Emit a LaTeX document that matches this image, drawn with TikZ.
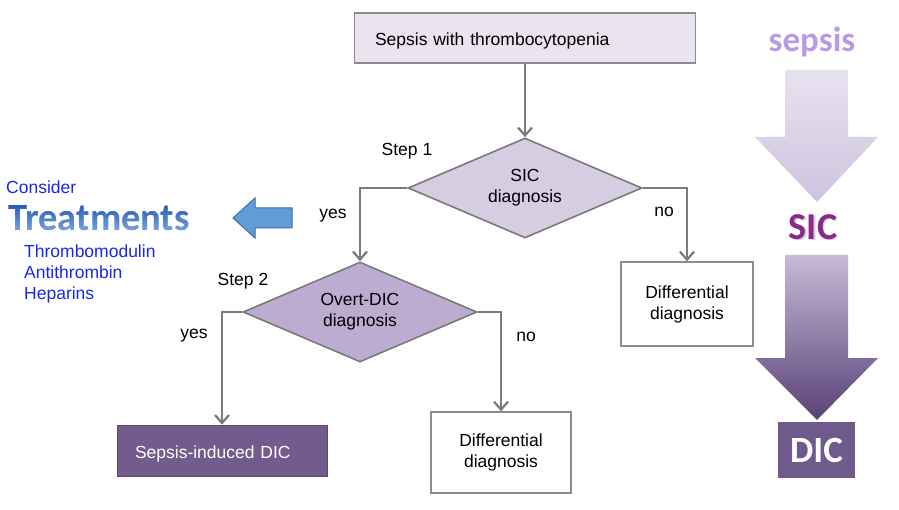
\documentclass[tikz,border=0pt]{standalone}
\usepackage{fontspec}
\setmainfont{Liberation Sans}
\newfontfamily\calib{Carlito}
\usetikzlibrary{shapes.geometric,arrows.meta}
\definecolor{linegray}{RGB}{122,122,122}
\definecolor{boxgray}{RGB}{140,140,140}
\definecolor{topfill}{RGB}{234,228,240}
\definecolor{dfillA}{RGB}{214,205,227}
\definecolor{dfillB}{RGB}{188,172,208}
\definecolor{purplebox}{RGB}{115,91,141}
\definecolor{txtblue}{RGB}{25,40,230}
\definecolor{tblueA}{RGB}{28,78,168}
\definecolor{tblueB}{RGB}{125,170,228}
\definecolor{arrblue}{RGB}{98,156,216}
\definecolor{arrblueD}{RGB}{60,110,170}
\definecolor{sicpurple}{RGB}{140,40,140}
\definecolor{sepsislav}{RGB}{186,155,226}
\definecolor{dicbox}{RGB}{110,90,140}
\begin{document}
\begin{tikzpicture}[x=1pt,y=-1pt,
  every node/.style={font=\fontsize{17.5}{21}\selectfont},
  arr/.style={draw=linegray, line width=2.3pt, -{Straight Barb[length=8pt,width=14pt,line width=2.2pt]}},
  flowbox/.style={draw=boxgray, line width=1.3pt, rectangle, inner sep=0pt},
  decision/.style={diamond, draw=linegray, line width=1.6pt, aspect=2.34, inner sep=0pt,
    minimum width=234pt, minimum height=100pt, align=center},
  lbl/.style={inner sep=0pt},
  bluetxt/.style={inner sep=0pt, text=txtblue},
  treat/.style={inner sep=0pt, font=\calib\bfseries\fontsize{38.5}{40}\selectfont}
]
\useasboundingbox (0,0) rectangle (899,510);
\fill[white] (0,0) rectangle (899,510);

% flowchart
\node[flowbox, fill=topfill, text width=300pt, inner xsep=20.5pt, minimum height=50pt, align=left] (top) at (525,38) {\raisebox{-3pt}[12.8pt][3.7pt]{Sepsis with thrombocytopenia}};
\node[decision, fill=dfillA] (d1) at (525,188) {SIC\\diagnosis};
\node[decision, fill=dfillB] (d2) at (360,312) {Overt-DIC\\diagnosis};
\node[flowbox, fill=white, minimum width=132pt, minimum height=84pt, align=center] (dd1) at (687,304) {Differential\\diagnosis};
\node[flowbox, fill=white, minimum width=140pt, minimum height=81pt, align=center] (dd2) at (501,452.5) {Differential\\diagnosis};
\node[rectangle, fill=purplebox, draw=purplebox!80!black, line width=0.6pt, text=white, text width=174pt, inner xsep=18pt, minimum height=51pt, align=left] (sid) at (222,450.5) {\raisebox{-3pt}[12.8pt][3.7pt]{Sepsis-induced DIC}};

\draw[arr] (top.south) -- (d1.north);
\draw[arr] (d1.west) -| (d2.north);
\draw[arr] (d1.east) -| (dd1.north);
\draw[arr] (d2.west) -| (sid.north);
\draw[arr] (d2.east) -| (dd2.north);

\node[lbl] (s1) at (407,151) {Step 1};
\node[lbl] (y1) at (333,216) {yes};
\node[lbl] (n1) at (664,212) {no};
\node[lbl] (s2) at (243,281) {Step 2};
\node[lbl] (y2) at (194,336) {yes};
\node[lbl] (n2) at (526,337) {no};

% treatments
\node[bluetxt, anchor=west] (cons) at (6,187) {Consider};
\foreach \i in {0,...,11}{
  \pgfmathsetmacro{\yA}{200+\i*3}
  \pgfmathsetmacro{\yB}{\yA+3}
  \pgfmathsetmacro{\mix}{100-\i*100/11}
  \begin{scope}
    \clip (0,\yA) rectangle (230,\yB);
    \node[treat, text=tblueA!\mix!tblueB] (tr\i) at (99,218) {Treatments};
  \end{scope}
}
\begin{scope}
  \clip (0,236) rectangle (230,246);
  \node[treat, text=tblueB] (trlast) at (99,218) {Treatments};
\end{scope}
\begin{scope}
  \clip (0,190) rectangle (230,200);
  \node[treat, text=tblueA] (trfirst) at (99,218) {Treatments};
\end{scope}
\node[bluetxt, anchor=north west, align=left] (drugs) at (24,245) {Thrombomodulin\\Antithrombin\\Heparins};
\draw[fill=arrblue, draw=arrblueD, line width=1pt] (292,208) -- (255,208) -- (255,198) -- (233,218) -- (255,238) -- (255,228) -- (292,228) -- cycle;

% right side progression
\node[inner sep=0pt, text=sepsislav] (sep) at (812,42) {\calib\bfseries\fontsize{35}{40}\selectfont sepsis};
\shade[top color={rgb,255:red,232;green,226;blue,240}, bottom color={rgb,255:red,206;green,195;blue,222}]
  (785,70) -- (848,70) -- (848,137) -- (878,137) -- (817,202) -- (755,137) -- (785,137) -- cycle;
\node[inner sep=0pt, text=gray!35] (sicsh) at (814.5,228.5) {\calib\bfseries\fontsize{38}{40}\selectfont SIC};
\node[inner sep=0pt, text=sicpurple] (sic) at (813,227) {\calib\bfseries\fontsize{38}{40}\selectfont SIC};
\shade[top color={rgb,255:red,200;green,186;blue,216}, bottom color={rgb,255:red,88;green,66;blue,118}]
  (785,255) -- (848,255) -- (848,358) -- (878,358) -- (817,420) -- (755,358) -- (785,358) -- cycle;
\node[fill=dicbox, text=white, minimum width=77pt, minimum height=56pt, inner sep=0pt] (dic) at (816.5,450) {\calib\bfseries\fontsize{37}{40}\selectfont DIC};
\end{tikzpicture}
\end{document}
